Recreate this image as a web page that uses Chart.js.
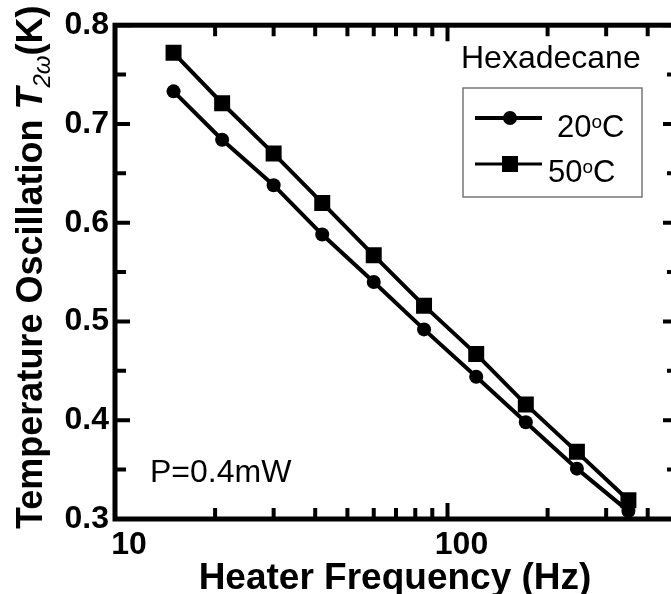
<!DOCTYPE html>
<html>
<head>
<meta charset="utf-8">
<script src="https://cdn.jsdelivr.net/npm/chart.js@4"></script>
<style>
  html, body { margin: 0; padding: 0; background: #fff; overflow: hidden; }
  canvas { display: block; }
</style>
</head>
<body>
<canvas id="oscChart" width="690" height="594"></canvas>
<script>
// Heater frequency sweep (Hz) and 2-omega temperature oscillation (K)
const freqs = [15, 21, 30, 42, 60, 85, 122, 172, 245, 350];
const t20 = [0.733, 0.684, 0.638, 0.588, 0.540, 0.492, 0.444, 0.398, 0.351, 0.308];
const t50 = [0.772, 0.721, 0.670, 0.620, 0.567, 0.516, 0.467, 0.416, 0.368, 0.319];

// Axis ticks
const xLabelTicks = [10, 100];
const xMinorTicks = [20, 30, 40, 50, 60, 70, 80, 90, 200, 300, 400];
const yMajorTicks = [0.3, 0.4, 0.5, 0.6, 0.7, 0.8];
const yMinorTicks = [0.35, 0.45, 0.55, 0.65, 0.75];

const FONT = '"Liberation Sans", Arial, sans-serif';

// Frame, inward ticks, titles, legend box and notes
const decorPlugin = {
    id: 'decor',
    afterDraw(chart) {
        const ctx = chart.ctx;
        const a = chart.chartArea;
        const xs = chart.scales.x;
        const ys = chart.scales.y;
        ctx.save();
        ctx.strokeStyle = '#000';
        ctx.fillStyle = '#000';

        // frame
        ctx.lineWidth = 5;
        ctx.strokeRect(a.left, a.top, a.right - a.left, a.bottom - a.top);

        // ticks
        ctx.lineWidth = 4;
        ctx.beginPath();
        xLabelTicks.forEach(v => {
            const px = xs.getPixelForValue(v);
            ctx.moveTo(px, a.bottom); ctx.lineTo(px, a.bottom - 16);
            ctx.moveTo(px, a.top); ctx.lineTo(px, a.top + 16);
        });
        xMinorTicks.forEach(v => {
            const px = xs.getPixelForValue(v);
            ctx.moveTo(px, a.bottom); ctx.lineTo(px, a.bottom - 11);
            ctx.moveTo(px, a.top); ctx.lineTo(px, a.top + 11);
        });
        yMajorTicks.forEach(v => {
            const py = ys.getPixelForValue(v);
            ctx.moveTo(a.left, py); ctx.lineTo(a.left + 15, py);
            ctx.moveTo(a.right, py); ctx.lineTo(a.right - 14, py);
        });
        yMinorTicks.forEach(v => {
            const py = ys.getPixelForValue(v);
            ctx.moveTo(a.left, py); ctx.lineTo(a.left + 11, py);
            ctx.moveTo(a.right, py); ctx.lineTo(a.right - 10, py);
        });
        ctx.stroke();

        // x title
        ctx.textAlign = 'center';
        ctx.textBaseline = 'alphabetic';
        ctx.font = 'bold 37px ' + FONT;
        ctx.fillText('Heater Frequency (Hz)', 395, 589);

        // y title: bold text, italic T with subscript 2ω, then (K)
        ctx.save();
        ctx.translate(42, 529);
        ctx.rotate(-Math.PI / 2);
        ctx.textAlign = 'left';
        let x = 0;
        const part = (txt, font, dy) => {
            ctx.font = font;
            ctx.fillText(txt, x, dy);
            x += ctx.measureText(txt).width;
        };
        part('Temperature Oscillation ', 'bold 36px ' + FONT, 0);
        part('T', 'italic bold 36px ' + FONT, 0);
        part('2\u03c9', 'italic 24px ' + FONT, 8);
        part('(K)', 'bold 36px ' + FONT, 0);
        ctx.restore();

        // notes
        ctx.textAlign = 'left';
        ctx.font = '32px ' + FONT;
        ctx.fillText('Hexadecane', 461, 68);
        ctx.fillText('P=0.4mW', 150, 482);

        // legend box
        ctx.strokeStyle = '#777';
        ctx.lineWidth = 1.5;
        ctx.strokeRect(463, 88, 179, 109);

        ctx.strokeStyle = '#000';
        ctx.lineWidth = 4;
        ctx.beginPath(); ctx.moveTo(475, 118); ctx.lineTo(542, 118); ctx.stroke();
        ctx.beginPath(); ctx.arc(510, 118, 7, 0, Math.PI * 2); ctx.fill();
        ctx.lineWidth = 3;
        ctx.beginPath(); ctx.moveTo(475, 164); ctx.lineTo(542, 164); ctx.stroke();
        ctx.fillRect(502, 156, 16, 16);

        const degLabel = (num, lx, base) => {
            let cx = lx;
            ctx.font = '31px ' + FONT;
            ctx.fillText(num, cx, base);
            cx += ctx.measureText(num).width;
            ctx.font = '19px ' + FONT;
            ctx.fillText('o', cx, base - 9);
            cx += ctx.measureText('o').width;
            ctx.font = '31px ' + FONT;
            ctx.fillText('C', cx, base);
        };
        degLabel('20', 557, 137);
        degLabel('50', 548, 182);

        ctx.restore();
    }
};

function renderChart() {
    const ctx = document.getElementById('oscChart').getContext('2d');
    new Chart(ctx, {
        type: 'line',
        data: {
            labels: freqs,
            datasets: [{
                label: '20oC',
                data: freqs.map((f, i) => ({ x: f, y: t20[i] })),
                borderColor: '#000',
                backgroundColor: '#000',
                borderWidth: 4,
                pointStyle: 'circle',
                pointRadius: 7,
                pointBorderWidth: 0,
                tension: 0
            }, {
                label: '50oC',
                data: freqs.map((f, i) => ({ x: f, y: t50[i] })),
                borderColor: '#000',
                backgroundColor: '#000',
                borderWidth: 4,
                pointStyle: 'rect',
                pointRadius: 11.3,
                pointBorderWidth: 0,
                tension: 0
            }]
        },
        options: {
            responsive: false,
            animation: false,
            layout: { padding: { left: 0, right: 13, top: 24, bottom: 0 } },
            scales: {
                x: {
                    type: 'logarithmic',
                    min: 10,
                    max: 490,
                    grid: { display: false, drawTicks: false },
                    border: { display: false },
                    afterBuildTicks: scale => {
                        scale.ticks = xLabelTicks.map(v => ({ value: v }));
                    },
                    afterFit: scale => { scale.height = 75; },
                    ticks: {
                        color: '#000',
                        padding: 7,
                        labelOffset: 14,
                        maxRotation: 0,
                        autoSkip: false,
                        font: { family: FONT, size: 32, weight: 'bold' },
                        callback: v => String(v)
                    }
                },
                y: {
                    min: 0.3,
                    max: 0.8,
                    grid: { display: false, drawTicks: false },
                    border: { display: false },
                    afterBuildTicks: scale => {
                        scale.ticks = yMajorTicks.map(v => ({ value: v }));
                    },
                    afterFit: scale => { scale.width = 115; },
                    ticks: {
                        color: '#000',
                        padding: 6,
                        font: { family: FONT, size: 32, weight: 'bold' },
                        callback: v => Number(v).toFixed(1)
                    }
                }
            },
            plugins: {
                legend: { display: false },
                tooltip: { enabled: false }
            }
        },
        plugins: [decorPlugin]
    });
}

document.addEventListener('DOMContentLoaded', renderChart);
</script>
</body>
</html>
